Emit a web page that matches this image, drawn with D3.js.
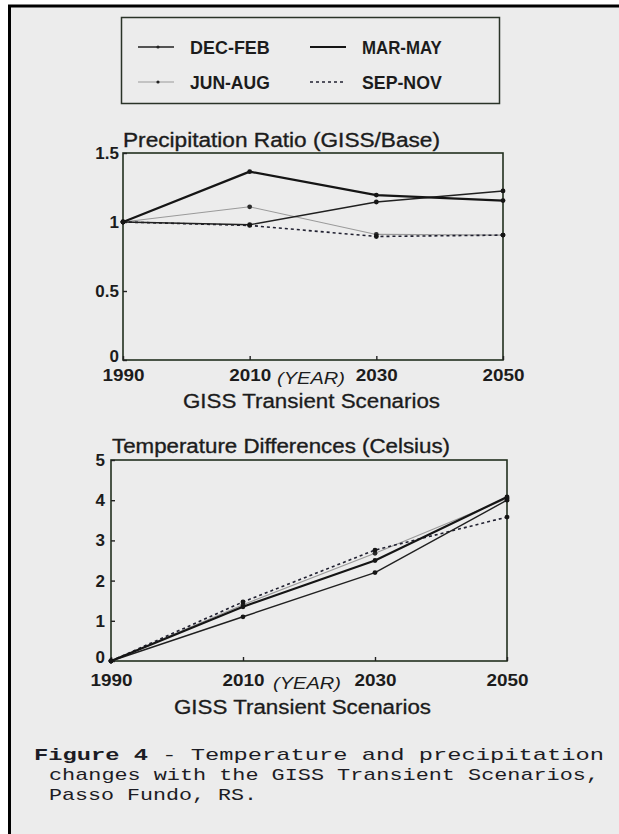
<!DOCTYPE html>
<html>
<head>
<meta charset="utf-8">
<script src="https://cdn.jsdelivr.net/npm/d3@7"></script>
<style>
  html, body { margin: 0; padding: 0; background: #fff; }
  svg { display: block; }
  .sans { font-family: "Liberation Sans", Arial, Helvetica, sans-serif; fill: #1c1c1c; }
  .mono { font-family: "Courier New", "Liberation Mono", monospace; fill: #1c1c24; white-space: pre; }
</style>
</head>
<body>
<div id="chart"></div>
<script>
// years on the x axis
const years = [1990, 2010, 2030, 2050];
const seasons = ["DEC-FEB", "MAR-MAY", "JUN-AUG", "SEP-NOV"];

// precipitation ratio GISS / base
const precipDecFeb = [1.0, 0.98, 1.145, 1.225];
const precipMarMay = [1.0, 1.365, 1.195, 1.155];
const precipJunAug = [1.0, 1.11, 0.91, 0.905];
const precipSepNov = [1.0, 0.975, 0.895, 0.905];

// temperature differences (Celsius)
const tempDecFeb = [0, 1.1, 2.2, 4.0];
const tempMarMay = [0, 1.35, 2.5, 4.08];
const tempJunAug = [0, 1.4, 2.68, 4.04];
const tempSepNov = [0, 1.47, 2.76, 3.58];

const precipTicks = [0, 0.5, 1, 1.5];
const tempTicks = [0, 1, 2, 3, 4, 5];

const captionLines = [
  "Temperature  and  precipitation",
  "changes with the GISS Transient Scenarios,",
  "Passo Fundo, RS."
];

// line look per season
const styles = {
  "DEC-FEB": { stroke: "#202020", width: 1.4, dash: null },
  "MAR-MAY": { stroke: "#151515", width: 2.2, dash: null },
  "JUN-AUG": { stroke: "#9a9a9a", width: 1.1, dash: null },
  "SEP-NOV": { stroke: "#202030", width: 1.6, dash: "3,3" }
};

const W = 619, H = 834;
const svg = d3.select("#chart").append("svg")
  .attr("width", W)
  .attr("height", H);

// scanned page background and frame
svg.append("rect")
  .attr("x", 9).attr("y", 6)
  .attr("width", W - 9).attr("height", H - 6)
  .attr("fill", "#ececec");
svg.append("line")
  .attr("x1", 8).attr("x2", W).attr("y1", 6).attr("y2", 6)
  .attr("stroke", "#000").attr("stroke-width", 3);
svg.append("line")
  .attr("x1", 9.5).attr("x2", 9.5).attr("y1", 5).attr("y2", H)
  .attr("stroke", "#000").attr("stroke-width", 3);

function fit(sel, w) {
  sel.attr("textLength", w).attr("lengthAdjust", "spacingAndGlyphs");
}

// legend
const legend = svg.append("g");
legend.append("rect")
  .attr("x", 121.5).attr("y", 17.5)
  .attr("width", 378).attr("height", 86)
  .attr("fill", "none")
  .attr("stroke", "#2a3328").attr("stroke-width", 1.5);

const legendPos = [
  { x: 138, y: 47 }, { x: 310, y: 47 },
  { x: 138, y: 82 }, { x: 310, y: 82 }
];
seasons.forEach((s, i) => {
  const p = legendPos[i], st = styles[s];
  legend.append("line")
    .attr("x1", p.x).attr("x2", p.x + 36)
    .attr("y1", p.y).attr("y2", p.y)
    .attr("stroke", st.stroke)
    .attr("stroke-width", st.width)
    .attr("stroke-dasharray", st.dash);
  if (s === "DEC-FEB" || s === "JUN-AUG") {
    legend.append("circle")
      .attr("cx", p.x + 20).attr("cy", p.y).attr("r", 1.6)
      .attr("fill", "#222");
  }
  legend.append("text")
    .attr("class", "sans")
    .attr("x", p.x + 52).attr("y", p.y + 6.5)
    .attr("font-size", 18).attr("font-weight", "bold")
    .text(s)
    .call(fit, s.length * 11.4);
});

function panel(opts) {
  const { left, right, top, bottom, domain, ticks, series, title } = opts;
  const g = svg.append("g");

  const x = d3.scaleLinear().domain([1990, 2050]).range([left, right]);
  const y = d3.scaleLinear().domain(domain).range([bottom, top]);

  // title
  g.append("text")
    .attr("class", "sans")
    .attr("x", title.x).attr("y", title.y)
    .attr("font-size", 20)
    .attr("stroke", "#1c1c1c").attr("stroke-width", 0.35)
    .text(title.text)
    .call(fit, title.w);

  // plot frame
  g.append("rect")
    .attr("x", left).attr("y", top)
    .attr("width", right - left).attr("height", bottom - top)
    .attr("fill", "none")
    .attr("stroke", "#22301f").attr("stroke-width", 1.6);

  const yAxis = g.append("g")
    .attr("transform", `translate(${left},0)`)
    .call(d3.axisLeft(y).tickValues(ticks).tickSize(-4)
      .tickPadding(opts.yPad).tickFormat(d => String(d)));
  yAxis.select(".domain").remove();
  yAxis.selectAll("line").attr("stroke", "#222").attr("stroke-width", 1.4);
  yAxis.selectAll("text")
    .attr("class", "sans")
    .attr("font-size", 17).attr("font-weight", "bold")
    .attr("fill", "#1c1c1c");
  // the zero label sits a touch above the year labels
  yAxis.selectAll(".tick text").filter(d => d === 0).attr("dy", "0.1em");

  const xAxis = g.append("g")
    .attr("transform", `translate(0,${bottom})`)
    .call(d3.axisBottom(x).tickValues(years).tickSize(-4)
      .tickPadding(opts.xPad).tickFormat(d3.format("d")));
  xAxis.select(".domain").remove();
  xAxis.selectAll("line").attr("stroke", "#222").attr("stroke-width", 1.4);
  xAxis.selectAll("text")
    .attr("class", "sans")
    .attr("font-size", 17).attr("font-weight", "bold")
    .attr("fill", "#1c1c1c")
    .call(fit, 42);

  // (YEAR) label between the middle ticks
  g.append("text")
    .attr("class", "sans")
    .attr("x", opts.yearX).attr("y", bottom + opts.xPad + 15)
    .attr("text-anchor", "middle")
    .attr("font-size", 17).attr("font-style", "italic")
    .text("(YEAR)")
    .call(fit, 68);

  g.append("text")
    .attr("class", "sans")
    .attr("x", opts.subX).attr("y", opts.subY)
    .attr("font-size", 20)
    .attr("stroke", "#1c1c1c").attr("stroke-width", 0.3)
    .text("GISS Transient Scenarios")
    .call(fit, 257);

  const line = d3.line()
    .x((d, i) => x(years[i]))
    .y(d => y(d));

  // draw the light series first so the dark ones sit on top
  const order = ["JUN-AUG", "SEP-NOV", "DEC-FEB", "MAR-MAY"];
  order.forEach(s => {
    const vals = series[s], st = styles[s];
    g.append("path")
      .datum(vals)
      .attr("d", line)
      .attr("fill", "none")
      .attr("stroke", st.stroke)
      .attr("stroke-width", st.width)
      .attr("stroke-dasharray", st.dash)
      .attr("stroke-linejoin", "round");
    g.selectAll(null)
      .data(vals)
      .join("circle")
      .attr("cx", (d, i) => x(years[i]))
      .attr("cy", d => y(d))
      .attr("r", 2.4)
      .attr("fill", s === "JUN-AUG" ? "#2a2a2a" : "#151515");
  });
}

panel({
  left: 123, right: 503, top: 153, bottom: 360,
  domain: [0, 1.5], ticks: precipTicks,
  yPad: 4, xPad: 9,
  yearX: 311, subX: 183, subY: 408,
  title: { text: "Precipitation Ratio (GISS/Base)", x: 123, y: 147, w: 317 },
  series: {
    "DEC-FEB": precipDecFeb, "MAR-MAY": precipMarMay,
    "JUN-AUG": precipJunAug, "SEP-NOV": precipSepNov
  }
});

panel({
  left: 111, right: 507, top: 460, bottom: 661,
  domain: [0, 5], ticks: tempTicks,
  yPad: 6, xPad: 13,
  yearX: 307, subX: 174, subY: 714,
  title: { text: "Temperature Differences (Celsius)", x: 112, y: 453, w: 338 },
  series: {
    "DEC-FEB": tempDecFeb, "MAR-MAY": tempMarMay,
    "JUN-AUG": tempJunAug, "SEP-NOV": tempSepNov
  }
});

// caption in typewriter face
const cap = svg.append("g").attr("class", "mono").attr("font-size", 17);
const first = cap.append("text").attr("x", 34).attr("y", 760);
first.append("tspan").attr("font-weight", "bold").text("Figure 4");
first.append("tspan").text(" - " + captionLines[0]);
fit(first, 570);
cap.append("text").attr("x", 49).attr("y", 780)
  .text(captionLines[1]).call(fit, 550);
cap.append("text").attr("x", 49).attr("y", 800)
  .text(captionLines[2]).call(fit, 208);
</script>
</body>
</html>
